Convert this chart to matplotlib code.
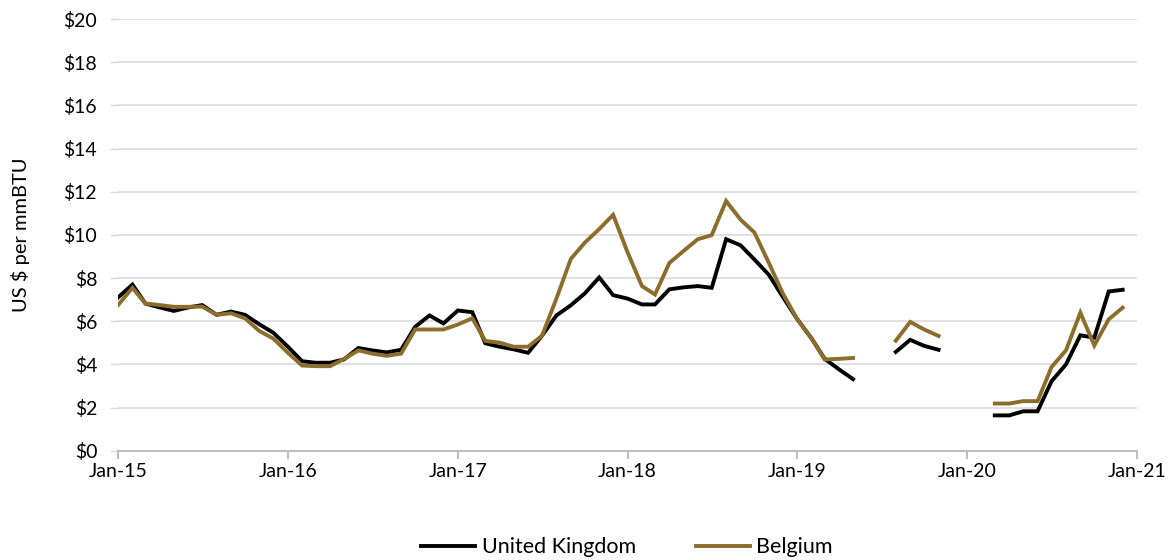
import matplotlib.pyplot as plt
import matplotlib.dates as mdates
import numpy as np
import pandas as pd

plt.rcParams["font.family"] = ["Lato", "DejaVu Sans"]

months = pd.date_range("2015-01-01", periods=72, freq="MS")

nan = np.nan
uk_price = [
    7.10, 7.70, 6.82, 6.64, 6.48, 6.64, 6.75, 6.30, 6.45, 6.30, 5.86, 5.47,
    4.83, 4.15, 4.08, 4.08, 4.23, 4.76, 4.65, 4.56, 4.68, 5.74, 6.27, 5.90,
    6.50, 6.42, 4.98, 4.82, 4.70, 4.54, 5.33, 6.27, 6.74, 7.29, 8.03, 7.21,
    7.05, 6.78, 6.78, 7.48, 7.57, 7.63, 7.55, 9.80, 9.52, 8.86, 8.15, 7.13,
    6.10, 5.20, 4.26, 3.77, 3.32, nan, nan, 4.58, 5.14, 4.86, 4.68, nan,
    nan, nan, 1.64, 1.64, 1.83, 1.83, 3.22, 4.00, 5.35, 5.24, 7.38, 7.46,
]
belgium_price = [
    6.75, 7.55, 6.82, 6.75, 6.67, 6.67, 6.68, 6.30, 6.37, 6.14, 5.55, 5.20,
    4.55, 3.95, 3.92, 3.92, 4.25, 4.65, 4.50, 4.40, 4.50, 5.62, 5.62, 5.62,
    5.85, 6.14, 5.09, 5.01, 4.82, 4.82, 5.33, 7.05, 8.89, 9.64, 10.27, 10.93,
    9.20, 7.63, 7.24, 8.70, 9.25, 9.80, 9.99, 11.57, 10.71, 10.11, 8.70, 7.29,
    6.10, 5.20, 4.23, 4.26, 4.30, nan, nan, 5.10, 5.97, 5.62, 5.32, nan,
    nan, nan, 2.19, 2.19, 2.30, 2.30, 3.88, 4.65, 6.40, 4.88, 6.09, 6.63,
]

series_names = ["United Kingdom", "Belgium"]
series_colors = ["#000000", "#8C6D2C"]

fig = plt.figure(figsize=(11.72, 5.6), dpi=100)
ax = fig.add_axes([0.1007, 0.195, 0.8695, 0.771])

for values, name, color in zip([uk_price, belgium_price], series_names, series_colors):
    ax.plot(months, values, color=color, lw=2.8, label=name, solid_joinstyle="miter")

ax.set_ylim(0, 20)
ax.set_yticks(range(0, 21, 2))
ax.yaxis.set_major_formatter(plt.FuncFormatter(lambda v, p: f"${v:.0f}"))
ax.set_xlim(pd.Timestamp("2015-01-01"), pd.Timestamp("2021-01-01"))
ax.xaxis.set_major_locator(mdates.YearLocator())
ax.xaxis.set_major_formatter(mdates.DateFormatter("%b-%y"))

ax.grid(axis="y", color="#d9d9d9", lw=1.1)
ax.set_axisbelow(True)
for side in ["top", "right", "left"]:
    ax.spines[side].set_visible(False)
ax.spines["bottom"].set_color("#bfbfbf")
ax.spines["bottom"].set_linewidth(1.5)

ax.tick_params(axis="x", colors="#bfbfbf", labelcolor="black", length=6, width=1.5,
               labelsize=14, pad=3)
ax.tick_params(axis="y", colors="#d9d9d9", labelcolor="black", length=6, width=1,
               labelsize=14, pad=9)

ax.set_ylabel("US $ per mmBTU", fontsize=14.5)
ax.yaxis.set_label_coords(-0.086, 0.5)

fig.legend(loc="lower center", bbox_to_anchor=(0.535, -0.03), ncol=2, frameon=False,
           fontsize=15.5, handlelength=2.5, handletextpad=0.3, columnspacing=2.8)

fig.savefig("out.png", dpi=100)
